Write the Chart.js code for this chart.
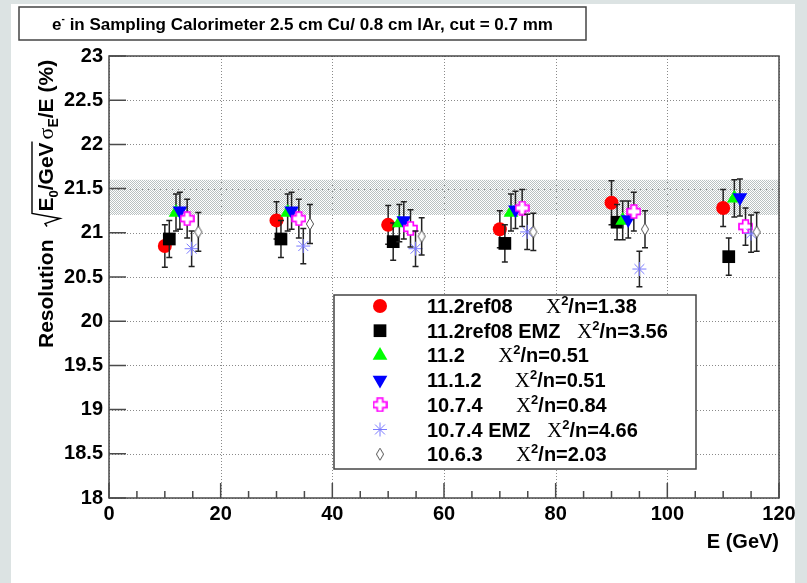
<!DOCTYPE html>
<html>
<head>
<meta charset="utf-8">
<script src="https://cdn.jsdelivr.net/npm/chart.js@4.4.0/dist/chart.umd.min.js"></script>
<style>
    html, body { margin: 0; padding: 0; background: #dce3e3; }
    #contenedor { position: absolute; left: 0; top: 0; width: 807px; height: 583px; }
</style>
</head>
<body>
<div id="contenedor"><canvas id="graficoResolucion" width="807" height="583"></canvas></div>
<script>
    /*      DATOS     */
    const E_REF08     = [10, 30, 50, 70, 90, 110];
    const RES_REF08   = [20.85, 21.14, 21.09, 21.04, 21.34, 21.28];
    const ERR_REF08   = [0.24, 0.21, 0.22, 0.21, 0.25, 0.21];

    const E_REF08EMZ   = [10.8, 30.8, 50.9, 70.9, 91, 111];
    const RES_REF08EMZ = [20.93, 20.93, 20.90, 20.88, 21.12, 20.73];
    const ERR_REF08EMZ = [0.21, 0.21, 0.21, 0.21, 0.20, 0.21];

    const E_11_2   = [12, 32, 52, 72, 92, 112];
    const RES_11_2 = [21.23, 21.23, 21.11, 21.23, 21.14, 21.39];
    const ERR_11_2 = [0.21, 0.21, 0.21, 0.21, 0.22, 0.21];

    const E_11_1_2   = [12.7, 32.7, 52.8, 72.8, 93, 113];
    const RES_11_1_2 = [21.25, 21.25, 21.14, 21.26, 21.15, 21.40];
    const ERR_11_1_2 = [0.21, 0.21, 0.21, 0.21, 0.21, 0.21];

    const E_10_7_4   = [14, 34, 54, 74, 94, 114];
    const RES_10_7_4 = [21.16, 21.16, 21.05, 21.28, 21.24, 21.07];
    const ERR_10_7_4 = [0.22, 0.22, 0.21, 0.21, 0.22, 0.21];

    const E_10_7_4EMZ   = [14.8, 34.8, 54.9, 74.9, 95, 115];
    const RES_10_7_4EMZ = [20.82, 20.85, 20.82, 21.01, 20.59, 20.99];
    const ERR_10_7_4EMZ = [0.20, 0.20, 0.20, 0.20, 0.20, 0.21];

    const E_10_6_3   = [16, 36, 56, 76, 96, 116];
    const RES_10_6_3 = [21.01, 21.10, 20.96, 21.01, 21.04, 21.01];
    const ERR_10_6_3 = [0.22, 0.22, 0.21, 0.21, 0.21, 0.22];

    // banda sombreada
    const BANDA_X = [0, 120];
    const BANDA_MIN = 21.2;
    const BANDA_MAX = 21.6;

    const LEYENDA = [
        '11.2ref08      X²/n=1.38',
        '11.2ref08 EMZ   X²/n=3.56',
        '11.2      X²/n=0.51',
        '11.1.2      X²/n=0.51',
        '10.7.4      X²/n=0.84',
        '10.7.4 EMZ   X²/n=4.66',
        '10.6.3      X²/n=2.03'
    ];
    const TITULO = ' in Sampling Calorimeter 2.5 cm Cu/ 0.8 cm lAr, cut = 0.7 mm';

    const X_TICKS = [0, 20, 40, 60, 80, 100, 120];
    const Y_TICKS = [18, 18.5, 19, 19.5, 20, 20.5, 21, 21.5, 22, 22.5, 23];

    const SANS = '"Liberation Sans", Arial, Helvetica, sans-serif';
    const SERIF = '"Liberation Serif", "Times New Roman", serif';

    /*      MARCADORES     */
    function crearCruz() {
        var c = document.createElement('canvas');
        c.width = 15; c.height = 15;
        var g = c.getContext('2d');
        var m = 7.5, a = 2.8;
        g.beginPath();
        g.moveTo(m - a, 1); g.lineTo(m + a, 1); g.lineTo(m + a, m - a);
        g.lineTo(14, m - a); g.lineTo(14, m + a); g.lineTo(m + a, m + a);
        g.lineTo(m + a, 14); g.lineTo(m - a, 14); g.lineTo(m - a, m + a);
        g.lineTo(1, m + a); g.lineTo(1, m - a); g.lineTo(m - a, m - a);
        g.closePath();
        g.fillStyle = '#fff';
        g.fill();
        g.strokeStyle = '#ff00ff';
        g.lineWidth = 1.7;
        g.stroke();
        return c;
    }
    function crearRombo() {
        var c = document.createElement('canvas');
        c.width = 10; c.height = 14;
        var g = c.getContext('2d');
        g.beginPath();
        g.moveTo(5, 1); g.lineTo(8.6, 7); g.lineTo(5, 13); g.lineTo(1.4, 7);
        g.closePath();
        g.fillStyle = '#fff';
        g.fill();
        g.strokeStyle = '#555';
        g.lineWidth = 1;
        g.stroke();
        return c;
    }
    function crearTrama() {
        var c = document.createElement('canvas');
        c.width = 2; c.height = 2;
        var g = c.getContext('2d');
        g.fillStyle = '#b9c1c1';
        g.fillRect(0, 0, 1, 1);
        g.fillRect(1, 1, 1, 1);
        return c;
    }

    function puntos(xs, ys) {
        return xs.map(function(x, i) { return { x: x, y: ys[i] }; });
    }

    var series = [
        { label: '11.2ref08', data: puntos(E_REF08, RES_REF08), errores: ERR_REF08,
          pointStyle: 'circle', pointRadius: 7, backgroundColor: '#ff0000', borderColor: '#ff0000', pointBorderWidth: 0 },
        { label: '11.2ref08 EMZ', data: puntos(E_REF08EMZ, RES_REF08EMZ), errores: ERR_REF08EMZ,
          pointStyle: 'rect', pointRadius: 9, backgroundColor: '#000000', borderColor: '#000000', pointBorderWidth: 0 },
        { label: '11.2', data: puntos(E_11_2, RES_11_2), errores: ERR_11_2,
          pointStyle: 'triangle', pointRadius: 8.5, backgroundColor: '#00ff00', borderColor: '#00ff00', pointBorderWidth: 0 },
        { label: '11.1.2', data: puntos(E_11_1_2, RES_11_1_2), errores: ERR_11_1_2,
          pointStyle: 'triangle', pointRotation: 180, rotation: 180, pointRadius: 8.5, backgroundColor: '#0000ff', borderColor: '#0000ff', pointBorderWidth: 0 },
        { label: '10.7.4', data: puntos(E_10_7_4, RES_10_7_4), errores: ERR_10_7_4,
          pointStyle: crearCruz(), pointRadius: 7.5, backgroundColor: '#ff00ff', borderColor: '#ff00ff' },
        { label: '10.7.4 EMZ', data: puntos(E_10_7_4EMZ, RES_10_7_4EMZ), errores: ERR_10_7_4EMZ,
          pointStyle: 'star', pointRadius: 7, backgroundColor: '#7a7aff', borderColor: '#7a7aff', pointBorderWidth: 1 },
        { label: '10.6.3', data: puntos(E_10_6_3, RES_10_6_3), errores: ERR_10_6_3,
          pointStyle: crearRombo(), pointRadius: 7, backgroundColor: '#555', borderColor: '#555' }
    ];
    series.forEach(function(s, i) {
        s.type = 'scatter';
        s.order = 20 - i;
        s.pointHoverRadius = s.pointRadius;
    });

    var trama = crearTrama();
    var banda = [
        { type: 'line', label: 'banda_sup', data: puntos(BANDA_X, [BANDA_MAX, BANDA_MAX]),
          borderWidth: 0, pointRadius: 0, fill: '+1', backgroundColor: null, order: 100 },
        { type: 'line', label: 'banda_inf', data: puntos(BANDA_X, [BANDA_MIN, BANDA_MIN]),
          borderWidth: 0, pointRadius: 0, fill: false, order: 101 }
    ];

    /*      PLUGINS     */
    const fondo = {
        id: 'fondo',
        beforeDraw(chart) {
            var ctx = chart.ctx;
            ctx.save();
            ctx.fillStyle = '#dce3e3';
            ctx.fillRect(0, 0, chart.width, chart.height);
            ctx.fillStyle = '#ffffff';
            ctx.fillRect(11, 4, 784, 579);
            ctx.restore();
        }
    };

    const rejilla = {
        id: 'rejilla',
        beforeDatasetsDraw(chart) {
            var ctx = chart.ctx, a = chart.chartArea;
            var sx = chart.scales.x, sy = chart.scales.y;
            ctx.save();
            ctx.strokeStyle = '#8a8a8a';
            ctx.lineWidth = 1;
            ctx.setLineDash([1, 2]);
            X_TICKS.forEach(function(v) {
                var px = Math.round(sx.getPixelForValue(v)) + 0.5;
                ctx.beginPath(); ctx.moveTo(px, a.top); ctx.lineTo(px, a.bottom); ctx.stroke();
            });
            Y_TICKS.forEach(function(v) {
                var py = Math.round(sy.getPixelForValue(v)) + 0.5;
                ctx.beginPath(); ctx.moveTo(a.left, py); ctx.lineTo(a.right, py); ctx.stroke();
            });
            ctx.restore();
        },
        beforeDatasetDraw(chart, args) {
            var ds = chart.data.datasets[args.index];
            if (!ds.errores) return;
            var ctx = chart.ctx, sy = chart.scales.y;
            ctx.save();
            ctx.strokeStyle = '#222';
            ctx.lineWidth = 1.5;
            args.meta.data.forEach(function(pt, i) {
                var v = ds.data[i].y, e = ds.errores[i];
                var y1 = sy.getPixelForValue(v + e), y2 = sy.getPixelForValue(v - e);
                ctx.beginPath();
                ctx.moveTo(pt.x, y1); ctx.lineTo(pt.x, y2);
                ctx.moveTo(pt.x - 3, y1); ctx.lineTo(pt.x + 3, y1);
                ctx.moveTo(pt.x - 3, y2); ctx.lineTo(pt.x + 3, y2);
                ctx.stroke();
            });
            ctx.restore();
        },
        afterDatasetsDraw(chart) {
            var ctx = chart.ctx, a = chart.chartArea;
            var sx = chart.scales.x, sy = chart.scales.y;
            ctx.save();
            ctx.strokeStyle = '#4a4a4a';
            ctx.lineWidth = 1.5;
            ctx.strokeRect(a.left, a.top, a.right - a.left, a.bottom - a.top);
            // marcas del eje x (mayores y menores)
            ctx.beginPath();
            for (var v = 0; v <= 120; v += 5) {
                var px = sx.getPixelForValue(v);
                var largo = (v % 20 === 0) ? 15 : 7;
                ctx.moveTo(px, a.bottom); ctx.lineTo(px, a.bottom - largo);
            }
            Y_TICKS.forEach(function(v) {
                var py = sy.getPixelForValue(v);
                ctx.moveTo(a.left, py); ctx.lineTo(a.left + 17, py);
            });
            ctx.stroke();
            ctx.restore();
            dibujarLeyenda(chart);
        },
        afterDraw(chart) {
            dibujarTitulo(chart.ctx);
            dibujarTituloY(chart.ctx);
            var ctx = chart.ctx;
            ctx.save();
            ctx.fillStyle = '#000';
            ctx.font = 'bold 20px ' + SANS;
            ctx.textAlign = 'right';
            ctx.fillText('E (GeV)', chart.chartArea.right, 548);
            ctx.restore();
        }
    };

    function dibujarLeyenda(chart) {
        var ctx = chart.ctx;
        ctx.save();
        ctx.fillStyle = '#fff';
        ctx.fillRect(334, 295, 362, 174);
        ctx.strokeStyle = '#444';
        ctx.lineWidth = 1.5;
        ctx.strokeRect(334, 295, 362, 174);
        LEYENDA.forEach(function(txt, i) {
            var yc = 306 + i * 24.7;
            var s = series[i];
            ctx.save();
            ctx.fillStyle = s.backgroundColor;
            ctx.strokeStyle = s.borderColor;
            ctx.lineWidth = s.pointBorderWidth || 0;
            Chart.helpers.drawPoint(ctx, { pointStyle: s.pointStyle, rotation: s.pointRotation || 0, radius: s.pointRadius, borderWidth: s.pointBorderWidth || 0 }, 380, yc);
            ctx.restore();

            var partes = txt.split('X²');
            var x = 427, base = yc + 7;
            ctx.fillStyle = '#000';
            ctx.textAlign = 'left';
            ctx.font = 'bold 20px ' + SANS;
            ctx.fillText(partes[0], x, base);
            x += ctx.measureText(partes[0]).width;
            ctx.font = '21px ' + SERIF;
            ctx.fillText('X', x, base);
            x += ctx.measureText('X').width;
            ctx.font = 'bold 13px ' + SANS;
            ctx.fillText('2', x, base - 8);
            x += ctx.measureText('2').width;
            ctx.font = 'bold 20px ' + SANS;
            ctx.fillText(partes[1], x, base);
        });
        ctx.restore();
    }

    function dibujarTitulo(ctx) {
        ctx.save();
        ctx.fillStyle = '#fff';
        ctx.fillRect(19, 7, 567, 33);
        ctx.strokeStyle = '#444';
        ctx.lineWidth = 1.5;
        ctx.strokeRect(19, 7, 567, 33);
        ctx.fillStyle = '#000';
        ctx.font = 'bold 17px ' + SANS;
        var wE = ctx.measureText('e').width;
        ctx.font = 'bold 10px ' + SANS;
        var wS = ctx.measureText('-').width;
        ctx.font = 'bold 17px ' + SANS;
        var wT = ctx.measureText(TITULO).width;
        var x = 302.5 - (wE + wS + wT) / 2, base = 30;
        ctx.fillText('e', x, base);
        x += wE;
        ctx.font = 'bold 10px ' + SANS;
        ctx.fillText('-', x, base - 8);
        x += wS;
        ctx.font = 'bold 17px ' + SANS;
        ctx.fillText(TITULO, x, base);
        ctx.restore();
    }

    function dibujarTituloY(ctx) {
        ctx.save();
        ctx.translate(53, 348);
        ctx.rotate(-Math.PI / 2);
        ctx.fillStyle = '#000';
        ctx.textAlign = 'left';
        var u = 0;
        ctx.font = 'bold 21px ' + SANS;
        ctx.fillText('Resolution', u, 0);
        u += ctx.measureText('Resolution').width + 13;
        var u0 = u;
        u += 15;
        ctx.fillText('E', u, 0);
        u += ctx.measureText('E').width;
        ctx.font = 'bold 13px ' + SANS;
        ctx.fillText('0', u, 5);
        u += ctx.measureText('0').width;
        ctx.font = 'bold 21px ' + SANS;
        ctx.fillText('/GeV', u, 0);
        u += ctx.measureText('/GeV').width + 1;
        // raiz
        ctx.strokeStyle = '#000';
        ctx.lineWidth = 1.4;
        ctx.beginPath();
        ctx.moveTo(u0, -6);
        ctx.lineTo(u0 + 3, -8);
        ctx.lineTo(u0 + 8, 7);
        ctx.lineTo(u0 + 13, -21);
        ctx.lineTo(u, -21);
        ctx.stroke();
        u += 2;
        ctx.font = '22px ' + SERIF;
        ctx.fillText('σ', u, 0);
        u += ctx.measureText('σ').width;
        ctx.font = 'bold 14px ' + SANS;
        ctx.fillText('E', u, 5);
        u += ctx.measureText('E').width;
        ctx.font = 'bold 21px ' + SANS;
        ctx.fillText('/E (%)', u, 0);
        ctx.restore();
    }

    /*      GRAFICO     */
    function generarGrafico() {
        var ctx = document.getElementById('graficoResolucion').getContext('2d');
        banda[0].backgroundColor = ctx.createPattern(trama, 'repeat');
        var myChart = new Chart(ctx, {
            type: 'scatter',
            data: { datasets: banda.concat(series) },
            options: {
                responsive: false,
                animation: false,
                layout: { padding: { left: 0, top: 56, right: 28, bottom: 0 } },
                plugins: {
                    legend: { display: false },
                    tooltip: { enabled: false },
                    title: { display: false }
                },
                scales: {
                    x: {
                        type: 'linear',
                        min: 0,
                        max: 120,
                        afterFit: function(scale) { scale.height = 85; },
                        afterBuildTicks: function(scale) { scale.ticks = X_TICKS.map(function(v) { return { value: v }; }); },
                        grid: { display: false, drawTicks: false },
                        border: { display: false },
                        ticks: { color: '#000', font: { family: SANS, size: 20, weight: 'bold' }, padding: 4, maxRotation: 0 }
                    },
                    y: {
                        type: 'linear',
                        min: 18,
                        max: 23,
                        afterFit: function(scale) { scale.width = 109; },
                        afterBuildTicks: function(scale) { scale.ticks = Y_TICKS.map(function(v) { return { value: v }; }); },
                        grid: { display: false, drawTicks: false },
                        border: { display: false },
                        ticks: { color: '#000', font: { family: SANS, size: 20, weight: 'bold' }, padding: 6,
                                 callback: function(v) { return String(v); } }
                    }
                }
            },
            plugins: [fondo, rejilla]
        });
        console.log(myChart.chartArea);
    }

    generarGrafico();
</script>
</body>
</html>
